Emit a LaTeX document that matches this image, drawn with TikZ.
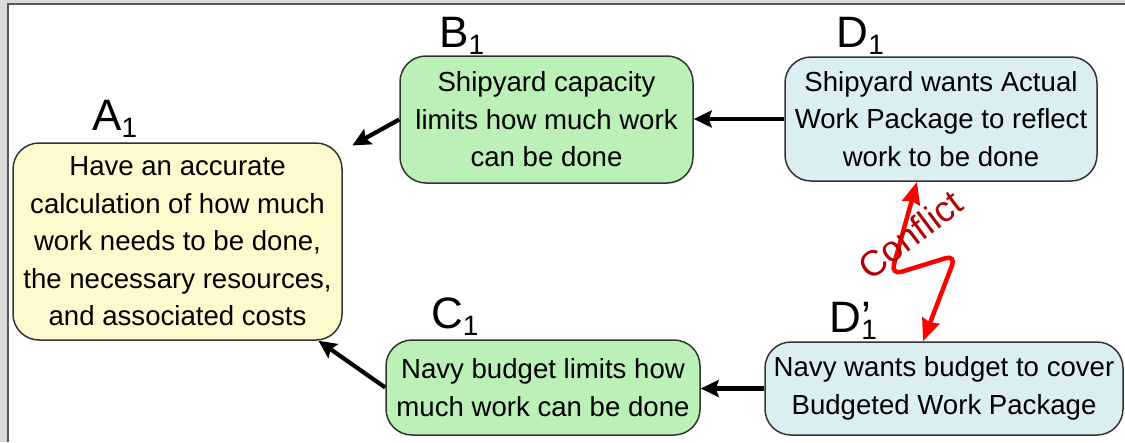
\documentclass[tikz,border=0pt]{standalone}
\usepackage{fontspec}
\setmainfont{Liberation Sans}
\usetikzlibrary{arrows.meta,calc}
\definecolor{framegray}{HTML}{DADADA}
\definecolor{frameline}{HTML}{5A5A5A}
\definecolor{boxline}{HTML}{333333}
\definecolor{boxyellow}{HTML}{FFFACD}
\definecolor{boxgreen}{HTML}{BBF0B6}
\definecolor{boxblue}{HTML}{DAEEF3}
\definecolor{conflictred}{HTML}{B00000}
\newcommand\labsub[1]{\raisebox{-7pt}{\fontsize{28}{28}\selectfont #1}}
\begin{document}
\begin{tikzpicture}[x=1pt,y=-1pt,
  card/.style={draw=boxline, line width=1.5pt, rounded corners=26pt,
    inner sep=0pt, align=center, font=\fontsize{27.6}{37.5}\selectfont},
  lab/.style={font=\fontsize{44}{44}\selectfont, inner sep=0pt, anchor=base west},
  link/.style={line width=4.2pt, -{Stealth[length=18pt,width=17pt,inset=3pt]}},
  conflict/.style={draw=red, line width=4.5pt, rounded corners=11pt,
    {Stealth[length=22pt,width=18pt,inset=2pt]}-{Stealth[length=22pt,width=18pt,inset=2pt]}}]
\useasboundingbox (0,0) rectangle (1125,442);

% window frame
\fill[framegray] (0,0) rectangle (1125,442);
\fill[white] (8,4) rectangle (1125,442);
\draw[frameline, line width=1.5pt] (8,442) -- (8,4) -- (1125,4);

% boxes
\node[card, fill=boxyellow, minimum width=329pt, minimum height=197pt] (A) at (177.5,241.5)
  {Have an accurate\\calculation of how much\\work needs to be done,\\the necessary resources,\\and associated costs};
\node[card, fill=boxgreen, minimum width=293pt, minimum height=127pt] (B) at (546.5,119.5)
  {Shipyard capacity\\limits how much work\\can be done};
\node[card, fill=boxblue, minimum width=312pt, minimum height=124pt] (D) at (941,119)
  {Shipyard wants Actual\\Work Package to reflect\\work to be done};
\node[card, fill=boxgreen, minimum width=314pt, minimum height=95pt] (C) at (543,387.5)
  {Navy budget limits how\\much work can be done};
\node[card, fill=boxblue, minimum width=358pt, minimum height=93pt] (Dp) at (944,388.5)
  {Navy wants budget to cover\\Budgeted Work Package};

% labels
\node[lab] (lA) at (92,130) {A\labsub{1}};
\node[lab] (lB) at (439,47) {B\labsub{1}};
\node[lab] (lD) at (836.5,47) {D\labsub{1}};
\node[lab] (lC) at (431,328) {C\labsub{1}};
\node[lab] (lDp) at (829.5,332) {D\rlap{’}\labsub{1}};

% arrows
\draw[link, shorten >=11pt] (B.west) -- (A);
\draw[link] (C.west) -- (A);
\draw[link] (D.west) -- (D.west -| B.east);
\draw[link] (Dp.west) -- (Dp.west -| C.east);

% conflict
\coordinate (ctop) at ($(D.south)+(-24,0)$);
\coordinate (cbot) at ($(Dp.north)+(-21,0)$);
\draw[conflict] (ctop) -- (891,275) -- (956,255) -- (cbot);
\node[font=\fontsize{36}{36}\selectfont, text=conflictred, rotate=37, anchor=base, inner sep=0pt]
  (ctext) at (918,245) {Conflict};
\end{tikzpicture}
\end{document}
